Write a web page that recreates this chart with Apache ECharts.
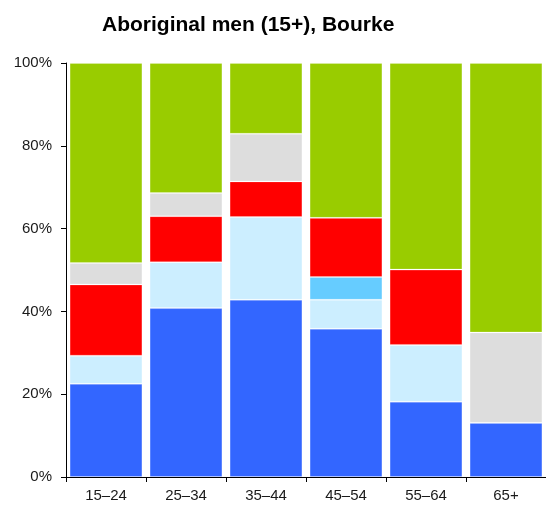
<!DOCTYPE html>
<html>
<head>
<meta charset="utf-8">
<script src="https://cdn.jsdelivr.net/npm/echarts@6/dist/echarts.min.js"></script>
<style>
  html, body { margin: 0; padding: 0; background: #fff; }
  #chart { width: 546px; height: 506px; }
</style>
</head>
<body>
<div id="chart"></div>
<script>
// age groups
const ageGroups = ["15–24", "25–34", "35–44", "45–54", "55–64", "65+"];

// shares (%), bottom to top
const blueVals      = [22.5, 40.8, 42.8, 35.8, 18.2, 13.1];
const lightBlueVals = [6.8, 11.1, 20.0, 7.0, 13.7, 0];
const cyanVals      = [0, 0, 0, 5.5, 0, 0];
const redVals       = [17.2, 11.1, 8.6, 14.3, 18.2, 0];
const greyVals      = [5.2, 5.6, 11.5, 0, 0, 21.8];
const greenVals     = [48.3, 31.4, 17.1, 37.4, 49.9, 65.1];

const yTicks = [0, 20, 40, 60, 80, 100];

const chart = echarts.init(document.getElementById("chart"));

function seg(name, data, color) {
    return {
        name: name,
        type: "bar",
        stack: "total",
        barCategoryGap: "9%",
        data: data,
        itemStyle: {
            color: color,
            borderColor: "rgba(255,255,255,0.2)",
            borderWidth: 1
        }
    };
}

const option = {
    animation: false,
    textStyle: { fontFamily: "Liberation Sans, Arial, sans-serif" },
    title: {
        text: "Aboriginal men (15+), Bourke",
        left: 97,
        top: 10,
        textStyle: {
            fontSize: 21,
            fontWeight: "bold",
            color: "#000",
            fontFamily: "Liberation Sans, Arial, sans-serif"
        }
    },
    grid: {
        left: 66,
        right: 0,
        top: 63,
        bottom: 29,
        containLabel: false
    },
    xAxis: {
        type: "category",
        data: ageGroups,
        boundaryGap: true,
        axisLine: { lineStyle: { color: "#000", width: 1 } },
        axisTick: { show: true, length: 5, lineStyle: { color: "#000" } },
        axisLabel: { color: "#1a1a1a", fontSize: 15, margin: 11 },
        splitLine: { show: false }
    },
    yAxis: {
        type: "value",
        min: yTicks[0],
        max: yTicks[yTicks.length - 1],
        interval: 20,
        axisLine: { show: true, lineStyle: { color: "#000", width: 1 } },
        axisTick: { show: true, length: 5, lineStyle: { color: "#000" } },
        axisLabel: {
            color: "#1a1a1a",
            fontSize: 15,
            margin: 14,
            formatter: function (v) { return v + "%"; }
        },
        splitLine: { show: false }
    },
    series: [
        seg("blue", blueVals, "#3366ff"),
        seg("light blue", lightBlueVals, "#cceeff"),
        seg("cyan", cyanVals, "#66ccff"),
        seg("red", redVals, "#ff0000"),
        seg("grey", greyVals, "#dddddd"),
        seg("green", greenVals, "#99cc00")
    ]
};

chart.setOption(option);
</script>
</body>
</html>
